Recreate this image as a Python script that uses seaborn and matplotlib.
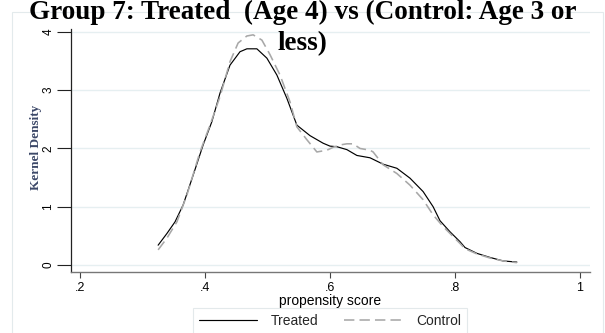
import matplotlib
matplotlib.use("Agg")
import matplotlib.pyplot as plt
from matplotlib.lines import Line2D
from matplotlib.patches import Rectangle
import pandas as pd
import seaborn as sns

# Kernel density estimates of the propensity score, by group
treated_score = [0.325, 0.339, 0.352, 0.365, 0.381, 0.397, 0.411, 0.424, 0.440, 0.456,
                 0.467, 0.483, 0.499, 0.515, 0.531, 0.547, 0.568, 0.589, 0.600, 0.611,
                 0.627, 0.643, 0.664, 0.685, 0.707, 0.728, 0.749, 0.765, 0.776, 0.792,
                 0.808, 0.816, 0.835, 0.856, 0.877, 0.899]
treated_density = [0.34, 0.54, 0.74, 1.03, 1.54, 2.06, 2.46, 2.95, 3.43, 3.66,
                   3.71, 3.71, 3.55, 3.26, 2.86, 2.40, 2.22, 2.09, 2.04, 2.03,
                   1.98, 1.88, 1.84, 1.73, 1.66, 1.49, 1.26, 1.00, 0.76, 0.57,
                   0.40, 0.30, 0.20, 0.13, 0.07, 0.05]

control_score = [0.325, 0.339, 0.355, 0.371, 0.392, 0.408, 0.424, 0.440, 0.453, 0.467,
                 0.477, 0.491, 0.504, 0.520, 0.536, 0.547, 0.563, 0.579, 0.595, 0.605,
                 0.616, 0.627, 0.637, 0.648, 0.664, 0.669, 0.685, 0.707, 0.728, 0.749,
                 0.765, 0.781, 0.808, 0.816, 0.835, 0.856, 0.877, 0.899]
control_density = [0.26, 0.46, 0.74, 1.20, 1.94, 2.40, 2.89, 3.49, 3.81, 3.93,
                   3.95, 3.86, 3.61, 3.26, 2.80, 2.37, 2.15, 1.94, 1.97, 2.02,
                   2.06, 2.08, 2.08, 2.00, 1.97, 1.94, 1.72, 1.57, 1.37, 1.12,
                   0.86, 0.66, 0.37, 0.28, 0.19, 0.12, 0.07, 0.04]

groups = ["Treated", "Control"]
x_ticks = [0.2, 0.4, 0.6, 0.8, 1.0]
x_tick_labels = [".2", ".4", ".6", ".8", "1"]
y_ticks = [0, 1, 2, 3, 4]
title = "Group 7: Treated  (Age 4) vs (Control: Age 3 or\nless)"

df = pd.concat([
    pd.DataFrame({"score": treated_score, "density": treated_density, "group": "Treated"}),
    pd.DataFrame({"score": control_score, "density": control_density, "group": "Control"}),
], ignore_index=True)

sns.set_theme(style="white")
plt.rcParams["font.family"] = ["Liberation Sans", "DejaVu Sans"]

W, H = 605, 333
fig = plt.figure(figsize=(W / 100, H / 100), dpi=100)
fig.patch.set_facecolor("white")

# faint outer frame of the graph region
fig.patches.append(Rectangle((12 / W, -0.05), (603 - 12) / W, 1.05 - 12 / H,
                             transform=fig.transFigure, fill=False,
                             edgecolor="#e3eaec", linewidth=0.8))

ax = fig.add_axes([71 / W, 1 - 272 / H, (590 - 71) / W, (272 - 29) / H])
ax.set_facecolor("white")

palette = {"Treated": "black", "Control": "#a8a8a8"}
dashes = {"Treated": "", "Control": (6.5, 3.2)}
sns.lineplot(data=df, x="score", y="density", hue="group", style="group",
             hue_order=groups, style_order=groups, palette=palette, dashes=dashes,
             estimator=None, sort=False, ax=ax, legend=False)
for line in ax.lines:
    if line.get_color() in ("black", "#000000"):
        line.set_linewidth(0.85)
    else:
        line.set_linewidth(1.15)

ax.set_xlim(0.1856, 1.016)
ax.set_ylim(-0.12, 4.05)
ax.set_xticks(x_ticks)
ax.set_xticklabels(x_tick_labels)
ax.set_yticks(y_ticks)
ax.set_yticklabels([str(v) for v in y_ticks], rotation=90, va="center")

ax.grid(axis="y", color="#e6eff1", linewidth=1.0)
ax.grid(axis="x", visible=False)
for side in ("top", "right"):
    ax.spines[side].set_visible(False)
ax.spines["left"].set_color("#222222")
ax.spines["left"].set_linewidth(0.9)
ax.spines["bottom"].set_color("#777777")
ax.spines["bottom"].set_linewidth(1.0)

ax.tick_params(axis="y", direction="out", length=10, width=0.8, color="#222222",
               pad=2, labelsize=8.5, labelcolor="black", left=True)
ax.tick_params(axis="x", direction="out", length=4, width=0.8, color="#444444",
               pad=3, labelsize=9, labelcolor="black", bottom=True)

ax.set_xlabel("propensity score", fontsize=10, labelpad=0, color="black")
ax.set_ylabel("")
fig.text(36 / W, 1 - 147 / H, "Kernel Density", rotation=90, ha="center", va="center",
         fontsize=9.5, fontweight="bold", family="Liberation Serif", color="#3c4868")

fig.text(0.5, 1 - 50 / H, title, ha="center", va="baseline", multialignment="center",
         fontsize=19.5, fontweight="bold", family="Liberation Serif", color="black",
         linespacing=1.32, zorder=10)

handles = [Line2D([], [], color="black", linewidth=0.85),
           Line2D([], [], color="#a8a8a8", linewidth=1.15, dashes=(6.5, 3.2))]
leg = fig.legend(handles, groups, loc="center", bbox_to_anchor=(330 / W, 1 - 321 / H),
                 ncol=2, frameon=True, fontsize=10, handlelength=4.2,
                 handletextpad=1.0, columnspacing=1.8, borderpad=0.45,
                 fancybox=False)
leg.get_frame().set_edgecolor("#dde4e6")
leg.get_frame().set_linewidth(0.8)

fig.savefig("out.png", dpi=100, facecolor="white")
